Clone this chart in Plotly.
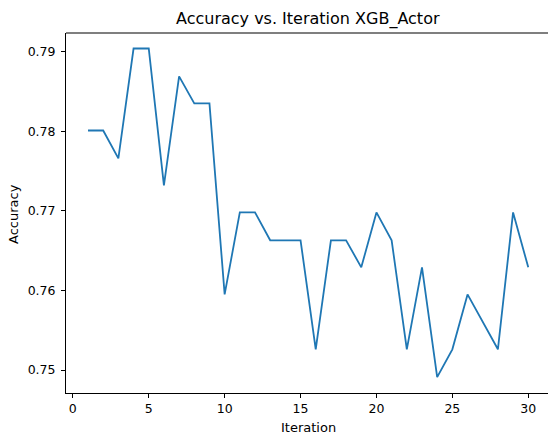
import plotly.graph_objects as go

# Accuracy per iteration of the XGB_Actor run
iterations = list(range(1, 31))
accuracy = [
    0.7801, 0.7801, 0.7766, 0.7904, 0.7904, 0.7732, 0.7869, 0.7835, 0.7835, 0.7595,
    0.7698, 0.7698, 0.7663, 0.7663, 0.7663, 0.7526, 0.7663, 0.7663, 0.7629, 0.7698,
    0.7663, 0.7526, 0.7629, 0.7491, 0.7526, 0.7595, 0.7560, 0.7526, 0.7698, 0.7629,
]
x_ticks = [0, 5, 10, 15, 20, 25, 30]
y_ticks = [0.75, 0.76, 0.77, 0.78, 0.79]

FONT = "DejaVu Sans"
INK = "#000000"

# plot-area geometry (pixels)
LEFT, TOP, BOTTOM = 66, 33, 393
PLOT_W = 548 - LEFT
PLOT_H = BOTTOM - TOP

fig = go.Figure(
    go.Scatter(
        x=iterations,
        y=accuracy,
        mode="lines",
        line=dict(color="#1f77b4", width=1.8),
        hoverinfo="x+y",
    )
)

axis_common = dict(
    showgrid=False,
    zeroline=False,
    showline=True,
    linecolor=INK,
    linewidth=1,
    ticks="outside",
    ticklen=4,
    tickwidth=1,
    tickcolor=INK,
    tickfont=dict(family=FONT, size=12.5, color=INK),
)

fig.update_layout(
    width=548,
    height=436,
    margin=dict(l=LEFT, r=0, t=TOP, b=436 - BOTTOM),
    paper_bgcolor="white",
    plot_bgcolor="white",
    showlegend=False,
    xaxis=dict(
        range=[-0.45, 31.30],
        tickvals=x_ticks,
        ticktext=[str(v) for v in x_ticks],
        **axis_common,
    ),
    yaxis=dict(
        range=[0.74711, 0.79235],
        tickvals=y_ticks,
        ticktext=[f"{v:.2f}" for v in y_ticks],
        ticklabelstandoff=3,
        **axis_common,
    ),
    shapes=[
        # top spine of the axes frame
        dict(
            type="line", xref="paper", yref="paper",
            x0=0, x1=1, y0=1, y1=1,
            line=dict(color=INK, width=1.2),
        ),
    ],
    annotations=[
        dict(
            text="Accuracy vs. Iteration XGB_Actor",
            xref="paper", yref="paper",
            x=(308 - LEFT) / PLOT_W, y=(BOTTOM - 19) / PLOT_H,
            xanchor="center", yanchor="middle",
            showarrow=False,
            font=dict(family=FONT, size=16, color=INK),
        ),
        dict(
            text="Iteration",
            xref="paper", yref="paper",
            x=(308 - LEFT) / PLOT_W, y=(BOTTOM - 427) / PLOT_H,
            xanchor="center", yanchor="middle",
            showarrow=False,
            font=dict(family=FONT, size=13, color=INK),
        ),
        dict(
            text="Accuracy",
            xref="paper", yref="paper",
            x=(13 - LEFT) / PLOT_W, y=(BOTTOM - 214) / PLOT_H,
            xanchor="center", yanchor="middle",
            textangle=-90,
            showarrow=False,
            font=dict(family=FONT, size=13, color=INK),
        ),
    ],
)

fig.write_html("out.html")
